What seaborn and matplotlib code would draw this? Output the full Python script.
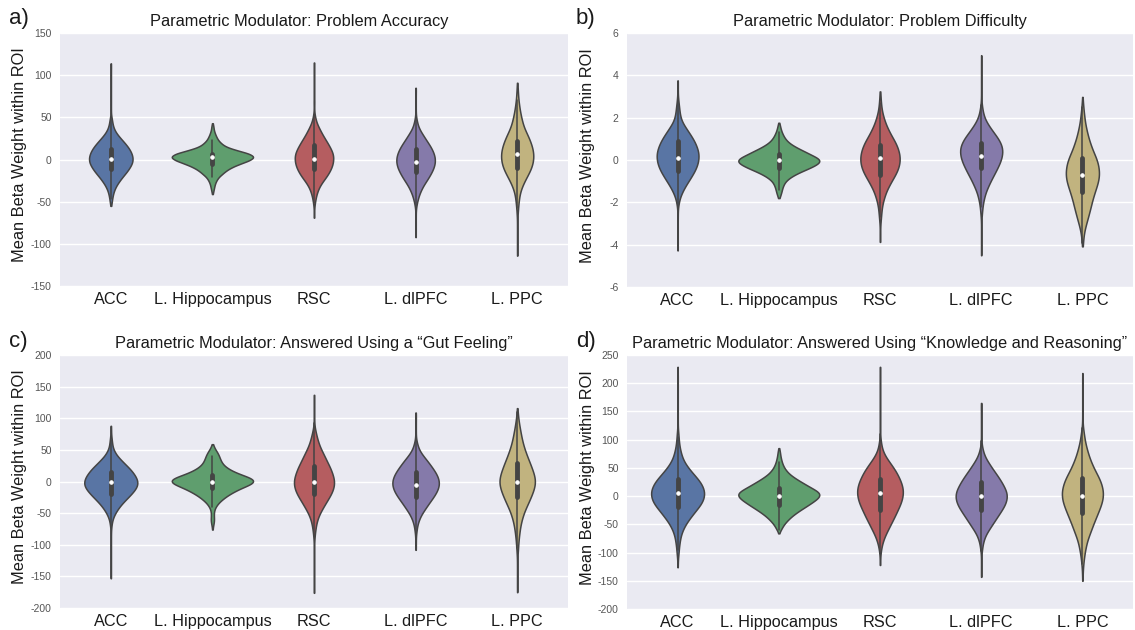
import matplotlib
matplotlib.use("Agg")
import matplotlib.pyplot as plt
import seaborn as sns
import numpy as np
import pandas as pd

# ---------------- data ----------------
# Each violin is given as (value, count) pairs read from the width profile of the
# reference violins (count ~ width of the violin at that value; single points
# form the thin tails).
regions = ["ACC", "L. Hippocampus", "RSC", "L. dlPFC", "L. PPC"]
colors = ["#4C72B0", "#55A868", "#C44E52", "#8172B2", "#CCB974"]

titles = [
    "Parametric Modulator: Problem Accuracy",
    "Parametric Modulator: Problem Difficulty",
    "Parametric Modulator: Answered Using a \u201cGut Feeling\u201d",
    "Parametric Modulator: Answered Using \u201cKnowledge and Reasoning\u201d",
]
panel_letters = ["a)", "b)", "c)", "d)"]
ylims = [(-150, 150), (-6, 6), (-200, 200), (-200, 250)]
ytick_a = [-150, -100, -50, 0, 50, 100, 150]
ytick_b = [-6, -4, -2, 0, 2, 4, 6]
ytick_c = [-200, -150, -100, -50, 0, 50, 100, 150, 200]
ytick_d = [-200, -150, -100, -50, 0, 50, 100, 150, 200, 250]

# ---- Panel a: Problem Accuracy
acc_a = [(-55, 1), (-51, 3), (-47, 4), (-43, 6), (-39, 8), (-35, 12), (-31, 17), (-27, 24),
         (-23, 32), (-19, 40), (-15, 50), (-11, 57), (-7, 64), (-3, 69), (1, 70), (5, 68),
         (9, 64), (13, 58), (17, 50), (21, 41), (25, 31), (29, 22), (33, 14), (37, 9),
         (41, 6), (45, 4), (48, 3), (52, 1), (60, 1), (68, 1), (76, 1), (84, 1), (92, 1),
         (100, 1), (108, 1), (114, 1)]
hip_a = [(-41, 1), (-37, 3), (-33, 5), (-29, 7), (-25, 11), (-21, 17), (-17, 28), (-13, 39),
         (-9, 55), (-5, 78), (-1, 105), (3, 120), (7, 105), (11, 68), (15, 38), (19, 25),
         (23, 16), (27, 11), (31, 7), (35, 4), (39, 3), (43, 1)]
rsc_a = [(-69, 1), (-61, 1), (-55, 1), (-51, 3), (-47, 4), (-43, 6), (-39, 9), (-35, 12),
         (-31, 17), (-27, 23), (-23, 31), (-19, 38), (-15, 44), (-11, 49), (-7, 53), (-3, 55),
         (1, 56), (5, 56), (9, 53), (13, 48), (17, 43), (21, 37), (25, 31), (29, 25), (33, 20),
         (37, 15), (41, 10), (45, 6), (49, 4), (53, 2), (60, 1), (68, 2), (76, 1), (84, 1),
         (92, 1), (100, 1), (108, 1), (115, 1)]
dlp_a = [(-92, 1), (-84, 1), (-76, 1), (-68, 1), (-60, 1), (-55, 2), (-51, 4), (-47, 6),
         (-43, 9), (-39, 12), (-35, 17), (-31, 21), (-27, 28), (-23, 34), (-19, 40), (-15, 45),
         (-11, 50), (-7, 53), (-3, 55), (1, 55), (5, 53), (9, 50), (13, 45), (17, 40), (21, 33),
         (25, 27), (29, 21), (33, 15), (37, 9), (41, 6), (45, 4), (49, 2), (56, 1), (64, 1),
         (72, 1), (80, 1), (85, 1)]
ppc_a = [(-114, 1), (-106, 1), (-98, 1), (-90, 1), (-82, 1), (-74, 1), (-66, 1), (-62, 2),
         (-58, 2), (-54, 3), (-50, 4), (-46, 5), (-42, 6), (-38, 8), (-34, 11), (-30, 15),
         (-26, 19), (-22, 24), (-18, 29), (-14, 34), (-10, 38), (-6, 41), (-2, 43), (2, 44),
         (6, 44), (10, 43), (14, 41), (18, 38), (22, 35), (26, 31), (30, 27), (34, 22), (38, 18),
         (42, 15), (46, 13), (50, 11), (54, 9), (58, 7), (62, 6), (66, 5), (70, 3), (74, 3),
         (78, 2), (82, 2), (86, 1), (91, 1)]

# ---- Panel b: Problem Difficulty
acc_b = [(-4.27, 1), (-3.9, 1), (-3.5, 1), (-3.1, 1), (-2.7, 1), (-2.4, 1), (-2.1, 3), (-1.9, 5),
         (-1.7, 9), (-1.5, 15), (-1.3, 22), (-1.1, 30), (-0.9, 39), (-0.7, 47), (-0.5, 55),
         (-0.3, 61), (-0.1, 65), (0.1, 67), (0.3, 67), (0.5, 64), (0.7, 59), (0.9, 53), (1.1, 45),
         (1.3, 36), (1.5, 27), (1.7, 18), (1.9, 11), (2.1, 8), (2.3, 6), (2.5, 5), (2.7, 3),
         (2.9, 2), (3.2, 1), (3.5, 1), (3.76, 1)]
hip_b = [(-1.8, 2), (-1.7, 4), (-1.6, 6), (-1.5, 8), (-1.4, 9), (-1.3, 11), (-1.2, 13), (-1.1, 16),
         (-1.0, 20), (-0.9, 27), (-0.8, 35), (-0.7, 46), (-0.6, 58), (-0.5, 72), (-0.4, 87),
         (-0.3, 100), (-0.2, 112), (-0.1, 120), (0.0, 121), (0.1, 114), (0.2, 100), (0.3, 88),
         (0.4, 76), (0.5, 63), (0.6, 51), (0.7, 40), (0.8, 31), (0.9, 24), (1.0, 19), (1.1, 15),
         (1.2, 12), (1.3, 9), (1.4, 7), (1.5, 5), (1.6, 4), (1.7, 2), (1.76, 1)]
rsc_b = [(-3.87, 1), (-3.5, 1), (-3.2, 1), (-2.9, 2), (-2.7, 3), (-2.5, 4), (-2.3, 5), (-2.1, 7),
         (-1.9, 10), (-1.7, 14), (-1.5, 18), (-1.3, 24), (-1.1, 31), (-0.9, 38), (-0.7, 46),
         (-0.5, 52), (-0.3, 57), (-0.1, 59), (0.1, 60), (0.3, 58), (0.5, 55), (0.7, 50), (0.9, 44),
         (1.1, 36), (1.3, 29), (1.5, 23), (1.7, 17), (1.9, 13), (2.1, 9), (2.3, 6), (2.5, 4),
         (2.7, 3), (2.9, 2), (3.1, 1), (3.24, 1)]
dlp_b = [(-4.5, 1), (-4.1, 1), (-3.7, 1), (-3.3, 1), (-2.9, 1), (-2.6, 2), (-2.4, 3), (-2.2, 4),
         (-2.0, 6), (-1.8, 9), (-1.6, 12), (-1.4, 17), (-1.2, 23), (-1.0, 29), (-0.8, 36),
         (-0.6, 43), (-0.4, 50), (-0.2, 56), (0.0, 62), (0.2, 65), (0.4, 67), (0.6, 66), (0.8, 61),
         (1.0, 54), (1.2, 44), (1.4, 34), (1.6, 25), (1.8, 16), (2.0, 10), (2.2, 6), (2.4, 4),
         (2.6, 2), (2.9, 1), (3.3, 1), (3.7, 1), (4.1, 1), (4.5, 1), (4.95, 1)]
ppc_b = [(-4.08, 1), (-3.9, 2), (-3.7, 3), (-3.5, 4), (-3.3, 7), (-3.1, 10), (-2.9, 14), (-2.7, 18),
         (-2.5, 21), (-2.3, 25), (-2.1, 28), (-1.9, 31), (-1.7, 35), (-1.5, 39), (-1.3, 44),
         (-1.1, 48), (-0.9, 52), (-0.7, 53), (-0.5, 53), (-0.3, 51), (-0.1, 48), (0.1, 44),
         (0.3, 37), (0.5, 31), (0.7, 27), (0.9, 22), (1.1, 18), (1.3, 15), (1.5, 12), (1.7, 9),
         (1.9, 7), (2.1, 6), (2.3, 4), (2.5, 3), (2.7, 2), (2.98, 1)]

# ---- Panel c: Answered Using a "Gut Feeling"
acc_c = [(-153, 1), (-143, 1), (-133, 1), (-123, 1), (-113, 1), (-103, 1), (-93, 1), (-83, 1),
         (-75, 1), (-70, 2), (-65, 3), (-60, 5), (-55, 8), (-50, 13), (-45, 18), (-40, 25),
         (-35, 32), (-30, 41), (-25, 50), (-20, 59), (-15, 67), (-10, 74), (-5, 78), (0, 78),
         (5, 75), (10, 70), (15, 63), (20, 56), (25, 46), (30, 37), (35, 28), (40, 19), (45, 13),
         (50, 8), (55, 5), (60, 4), (65, 3), (70, 2), (76, 1), (82, 1), (88, 1)]
hip_c = [(-76, 1), (-70, 2), (-65, 4), (-60, 5), (-55, 4), (-50, 4), (-45, 5), (-40, 9), (-35, 15),
         (-30, 24), (-25, 35), (-20, 48), (-15, 64), (-10, 82), (-5, 105), (0, 120), (5, 112),
         (10, 85), (15, 62), (20, 45), (25, 33), (30, 26), (35, 22), (40, 19), (45, 15), (50, 9),
         (55, 4), (59, 1)]
rsc_c = [(-176, 1), (-166, 1), (-156, 1), (-146, 1), (-136, 1), (-126, 1), (-116, 1), (-106, 1),
         (-96, 1), (-90, 1), (-85, 2), (-80, 3), (-75, 4), (-70, 5), (-65, 7), (-60, 9), (-55, 12),
         (-50, 16), (-45, 21), (-40, 26), (-35, 31), (-30, 36), (-25, 42), (-20, 47), (-15, 51),
         (-10, 54), (-5, 56), (0, 56), (5, 55), (10, 52), (15, 49), (20, 46), (25, 42), (30, 37),
         (35, 33), (40, 29), (45, 25), (50, 20), (55, 16), (60, 13), (65, 10), (70, 8), (75, 6),
         (80, 4), (85, 2), (92, 1), (100, 1), (108, 1), (116, 1), (124, 1), (131, 1), (137, 1)]
dlp_c = [(-108, 1), (-100, 1), (-92, 1), (-85, 1), (-80, 2), (-75, 3), (-70, 4), (-65, 6), (-60, 9),
         (-55, 12), (-50, 17), (-45, 22), (-40, 28), (-35, 33), (-30, 39), (-25, 45), (-20, 50),
         (-15, 55), (-10, 58), (-5, 60), (0, 60), (5, 58), (10, 55), (15, 50), (20, 45), (25, 39),
         (30, 33), (35, 27), (40, 20), (45, 14), (50, 9), (55, 6), (60, 4), (65, 2), (72, 1),
         (80, 1), (88, 1), (96, 1), (103, 1), (109, 1)]
ppc_c = [(-175, 1), (-165, 1), (-155, 1), (-145, 1), (-135, 1), (-125, 1), (-115, 1), (-110, 2),
         (-105, 2), (-100, 3), (-95, 3), (-90, 4), (-85, 5), (-80, 6), (-75, 7), (-70, 8), (-65, 10),
         (-60, 12), (-55, 14), (-50, 17), (-45, 20), (-40, 24), (-35, 28), (-30, 32), (-25, 35),
         (-20, 39), (-15, 42), (-10, 45), (-5, 47), (0, 48), (5, 47), (10, 45), (15, 42), (20, 39),
         (25, 36), (30, 33), (35, 29), (40, 26), (45, 23), (50, 20), (55, 17), (60, 15), (65, 13),
         (70, 11), (75, 10), (80, 8), (85, 7), (90, 5), (95, 4), (100, 3), (105, 2), (110, 1),
         (116, 1)]

# ---- Panel d: Answered Using "Knowledge and Reasoning"
acc_d = [(-126, 1), (-118, 1), (-110, 1), (-105, 2), (-100, 3), (-95, 3), (-90, 4), (-85, 5),
         (-80, 6), (-75, 7), (-70, 9), (-65, 11), (-60, 14), (-55, 18), (-50, 22), (-45, 27),
         (-40, 33), (-35, 39), (-30, 45), (-25, 51), (-20, 58), (-15, 64), (-10, 69), (-5, 72),
         (0, 74), (5, 75), (10, 74), (15, 71), (20, 68), (25, 63), (30, 57), (35, 50), (40, 43),
         (45, 36), (50, 30), (55, 24), (60, 19), (65, 15), (70, 12), (75, 10), (80, 8), (85, 6),
         (90, 5), (95, 4), (100, 3), (105, 3), (110, 2), (115, 2), (125, 1), (135, 1), (145, 1),
         (155, 1), (165, 1), (175, 1), (185, 1), (195, 1), (205, 1), (215, 1), (229, 1)]
hip_d = [(-66, 1), (-60, 6), (-55, 10), (-50, 15), (-45, 22), (-40, 30), (-35, 39), (-30, 50),
         (-25, 62), (-20, 75), (-15, 88), (-10, 100), (-5, 112), (0, 120), (5, 121), (10, 110),
         (15, 94), (20, 80), (25, 66), (30, 52), (35, 40), (40, 29), (45, 22), (50, 16), (55, 12),
         (60, 9), (65, 7), (70, 5), (75, 4), (80, 3), (85, 1)]
rsc_d = [(-122, 1), (-115, 1), (-108, 1), (-100, 2), (-95, 3), (-90, 4), (-85, 6), (-80, 8),
         (-75, 11), (-70, 14), (-65, 18), (-60, 22), (-55, 26), (-50, 30), (-45, 34), (-40, 38),
         (-35, 42), (-30, 46), (-25, 49), (-20, 53), (-15, 57), (-10, 60), (-5, 62), (0, 64),
         (5, 65), (10, 65), (15, 64), (20, 62), (25, 59), (30, 56), (35, 52), (40, 48), (45, 44),
         (50, 38), (55, 33), (60, 27), (65, 21), (70, 16), (75, 11), (80, 8), (85, 5), (90, 4),
         (95, 3), (100, 2), (110, 1), (120, 1), (130, 1), (140, 1), (150, 1), (160, 1), (170, 1),
         (180, 1), (190, 1), (200, 1), (210, 1), (220, 1), (229, 1)]
dlp_d = [(-143, 1), (-135, 1), (-125, 1), (-115, 1), (-105, 1), (-97, 1), (-95, 2), (-90, 3),
         (-85, 4), (-80, 6), (-75, 8), (-70, 11), (-65, 15), (-60, 20), (-55, 25), (-50, 30),
         (-45, 35), (-40, 40), (-35, 45), (-30, 50), (-25, 55), (-20, 60), (-15, 64), (-10, 67),
         (-5, 69), (0, 70), (5, 69), (10, 67), (15, 63), (20, 59), (25, 55), (30, 50), (35, 45),
         (40, 40), (45, 34), (50, 29), (55, 24), (60, 19), (65, 14), (70, 10), (75, 7), (80, 5),
         (85, 3), (90, 2), (98, 1), (106, 1), (114, 1), (122, 1), (130, 1), (138, 1), (146, 1),
         (154, 1), (160, 1), (165, 1)]
ppc_d = [(-150, 1), (-142, 1), (-135, 1), (-128, 1), (-125, 2), (-120, 2), (-115, 3), (-110, 4),
         (-105, 5), (-100, 6), (-95, 7), (-90, 9), (-85, 10), (-80, 12), (-75, 14), (-70, 17),
         (-65, 20), (-60, 23), (-55, 25), (-50, 28), (-45, 31), (-40, 34), (-35, 37), (-30, 40),
         (-25, 43), (-20, 46), (-15, 49), (-10, 51), (-5, 53), (0, 54), (5, 54), (10, 54), (15, 52),
         (20, 50), (25, 48), (30, 45), (35, 41), (40, 37), (45, 33), (50, 29), (55, 26), (60, 23),
         (65, 20), (70, 17), (75, 15), (80, 13), (85, 11), (90, 9), (95, 7), (100, 6), (105, 5),
         (110, 4), (115, 3), (120, 2), (128, 1), (138, 1), (148, 1), (158, 1), (168, 1), (178, 1),
         (188, 1), (198, 1), (208, 1), (218, 1)]

panels = [
    [acc_a, hip_a, rsc_a, dlp_a, ppc_a],
    [acc_b, hip_b, rsc_b, dlp_b, ppc_b],
    [acc_c, hip_c, rsc_c, dlp_c, ppc_c],
    [acc_d, hip_d, rsc_d, dlp_d, ppc_d],
]
yticks = [ytick_a, ytick_b, ytick_c, ytick_d]

# ---------------- style ----------------
sns.set_theme(style="darkgrid", rc={"axes.facecolor": "#EAEAF2", "grid.color": "white",
                                    "grid.linewidth": 1.0})
plt.rcParams["font.family"] = ["Liberation Sans", "DejaVu Sans"]

W, H = 1135, 630
fig = plt.figure(figsize=(W / 100, H / 100), dpi=100)

# axes boxes in pixels: (left, top, right, bottom)
boxes = [(60, 33, 568, 286), (627, 33, 1133, 287), (60, 355, 568, 608), (627, 355, 1133, 609)]
letter_pos = [(9, 24), (576, 24), (9, 347), (576, 347)]
title_x = [0.47, 0.5, 0.5, 0.5]

for i in range(4):
    l, t, r, b = boxes[i]
    ax = fig.add_axes([l / W, 1 - b / H, (r - l) / W, (b - t) / H])
    frames = []
    for reg, pairs in zip(regions, panels[i]):
        vals = np.array([p[0] for p in pairs], dtype=float)
        cnts = np.array([p[1] for p in pairs], dtype=int)
        frames.append(pd.DataFrame({"region": reg, "value": np.repeat(vals, cnts)}))
    df = pd.concat(frames, ignore_index=True)
    sns.violinplot(data=df, x="region", y="value", hue="region", order=regions,
                   hue_order=regions, palette=colors, legend=False, cut=0,
                   bw_adjust=0.75, inner="box", linewidth=1.1, linecolor="#444444",
                   density_norm="area", common_norm=True, width=0.8,
                   inner_kws=dict(box_width=3.5, whis_width=1.1, marker="o",
                                  markersize=2.5),
                   ax=ax)
    lo, hi = ylims[i]
    ax.set_ylim(lo, hi)
    ax.set_yticks(yticks[i])
    ax.set_yticklabels([str(tk) for tk in yticks[i]],
                       fontsize=7.5, color="#555555",
                       family=["Liberation Sans Narrow", "Liberation Sans"])
    ax.tick_params(axis="y", length=0, pad=6)
    ax.tick_params(axis="x", length=0, pad=4, labelsize=11.7, labelcolor="#1a1a1a")
    ax.set_xlabel("")
    ax.set_ylabel("Mean Beta Weight within ROI", fontsize=11.75, color="#1a1a1a")
    ax.yaxis.set_label_coords(-0.064, 0.518)
    ax.xaxis.grid(False)
    ax.set_title(titles[i], fontsize=11.75, color="#1a1a1a", pad=5, x=title_x[i])
    for s in ax.spines.values():
        s.set_visible(False)
    lx, ly = letter_pos[i]
    fig.text(lx / W, 1 - ly / H, panel_letters[i], fontsize=16, color="#1a1a1a",
             ha="left", va="baseline")

fig.savefig("out.png", dpi=100)
